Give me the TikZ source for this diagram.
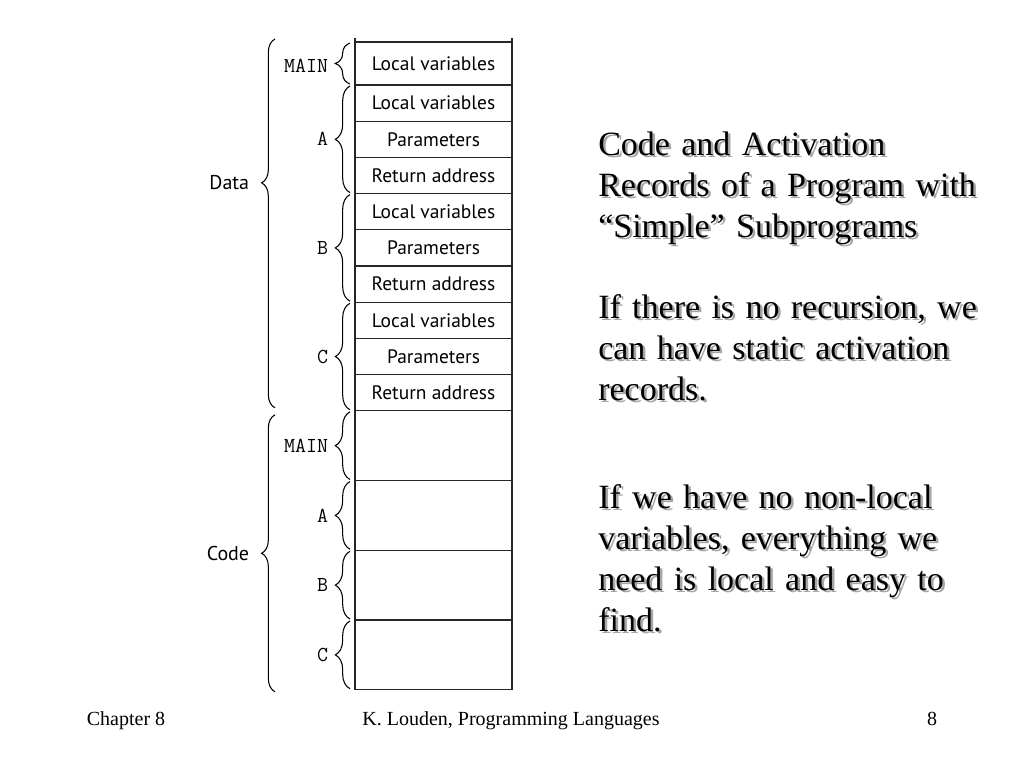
\documentclass[tikz,border=0pt]{standalone}
\usepackage{fontspec}
\setmainfont{Liberation Serif}
\newfontfamily\boxfont{PT Sans}
\usetikzlibrary{positioning,decorations.pathreplacing}

\begin{document}
\begin{tikzpicture}[x=0.75pt, y=-0.75pt,
    cell/.style={draw=black!85, line width=1pt, outer sep=0pt, minimum width=117.75pt, inner sep=0pt, font=\boxfont\fontsize{14.6}{16}\selectfont},
    row/.style={cell, minimum height=27.15pt},
    blk/.style={cell, minimum height=52.3pt},
    brc/.style={decorate, decoration={brace, amplitude=11pt}, line width=0.8pt},
    bigbrc/.style={decorate, decoration={brace, amplitude=10pt}, line width=0.8pt},
    sub/.style={midway, left=16pt, inner sep=0pt, font=\ttfamily\fontsize{16}{18}\selectfont},
    seg/.style={left=19pt, inner sep=0pt, font=\boxfont\fontsize{15}{16}\selectfont},
    para/.style={anchor=base west, inner sep=0pt, text width=300pt, align=left, font=\fontsize{25.5}{30.75}\selectfont},
    shade/.style={para, text=black!35},
    foot/.style={anchor=base, inner sep=0pt, font=\fontsize{15}{18}\selectfont}]

\useasboundingbox (0,0) rectangle (1024,768);

% data part
\node[cell, minimum height=32.25pt, anchor=north west] (d0) at (355,42) {\raisebox{-3pt}{Local variables}};
\node[row, below=0pt of d0] (d1) {Local variables};
\node[row, below=0pt of d1] (d2) {Parameters};
\node[row, below=0pt of d2] (d3) {Return address};
\node[row, below=0pt of d3] (d4) {Local variables};
\node[row, below=0pt of d4] (d5) {Parameters};
\node[row, below=0pt of d5] (d6) {Return address};
\node[row, below=0pt of d6] (d7) {Local variables};
\node[row, below=0pt of d7] (d8) {Parameters};
\node[row, below=0pt of d8] (d9) {Return address};
\draw[draw=black!85, line width=1pt] (d0.north west) -- ++(0,-4);
\draw[draw=black!85, line width=1pt] (d0.north east) -- ++(0,-4);

% code part
\node[blk, below=0pt of d9] (c1) {};
\node[blk, below=0pt of c1] (c2) {};
\node[blk, below=0pt of c2] (c3) {};
\node[blk, below=0pt of c3] (c4) {};

% braces
\draw[brc] ([shift={(-5,-1)}]d0.south west) -- ([shift={(-5,1)}]d0.north west) node[sub, yshift=-2pt] {MAIN};
\draw[brc] ([shift={(-5,-1)}]d3.south west) -- ([shift={(-5,1)}]d1.north west) node[sub] {A};
\draw[brc] ([shift={(-5,-1)}]d6.south west) -- ([shift={(-5,1)}]d4.north west) node[sub] {B};
\draw[brc] ([shift={(-5,-1)}]d9.south west) -- ([shift={(-5,1)}]d7.north west) node[sub] {C};
\draw[brc] ([shift={(-5,-1)}]c1.south west) -- ([shift={(-5,1)}]c1.north west) node[sub] {MAIN};
\draw[brc] ([shift={(-5,-1)}]c2.south west) -- ([shift={(-5,1)}]c2.north west) node[sub] {A};
\draw[brc] ([shift={(-5,-1)}]c3.south west) -- ([shift={(-5,1)}]c3.north west) node[sub] {B};
\draw[brc] ([shift={(-5,-1)}]c4.south west) -- ([shift={(-5,1)}]c4.north west) node[sub] {C};
\draw[bigbrc, decoration={aspect=0.61}] ([shift={(-80,-3)}]d9.south west) -- ([shift={(-80,-3)}]d0.north west) node[seg, pos=0.61] {Data};
\draw[bigbrc] ([shift={(-80,2)}]c4.south west) -- ([shift={(-80,4)}]c1.north west) node[seg, midway] {Code};

% text on the right
\node[shade] (t1s) at (600.5,157.5) {Code and Activation\\Records of a Program with\\``Simple'' Subprograms};
\node[para] (t1) at (598,155) {Code and Activation\\Records of a Program with\\``Simple'' Subprograms};
\node[shade] (t2s) at (600.5,320.5) {If there is no recursion, we\\can have static activation\\records.};
\node[para] (t2) at (598,318) {If there is no recursion, we\\can have static activation\\records.};
\node[shade] (t3s) at (600.5,510.5) {If we have no non-local\\variables, everything we\\need is local and easy to\\find.};
\node[para] (t3) at (598,508) {If we have no non-local\\variables, everything we\\need is local and easy to\\find.};

% footer
\node[foot] (f1) at (126,725) {Chapter 8};
\node[foot] (f2) at (511,725) {K. Louden, Programming Languages};
\node[foot] (f3) at (932,725) {8};
\end{tikzpicture}
\end{document}
